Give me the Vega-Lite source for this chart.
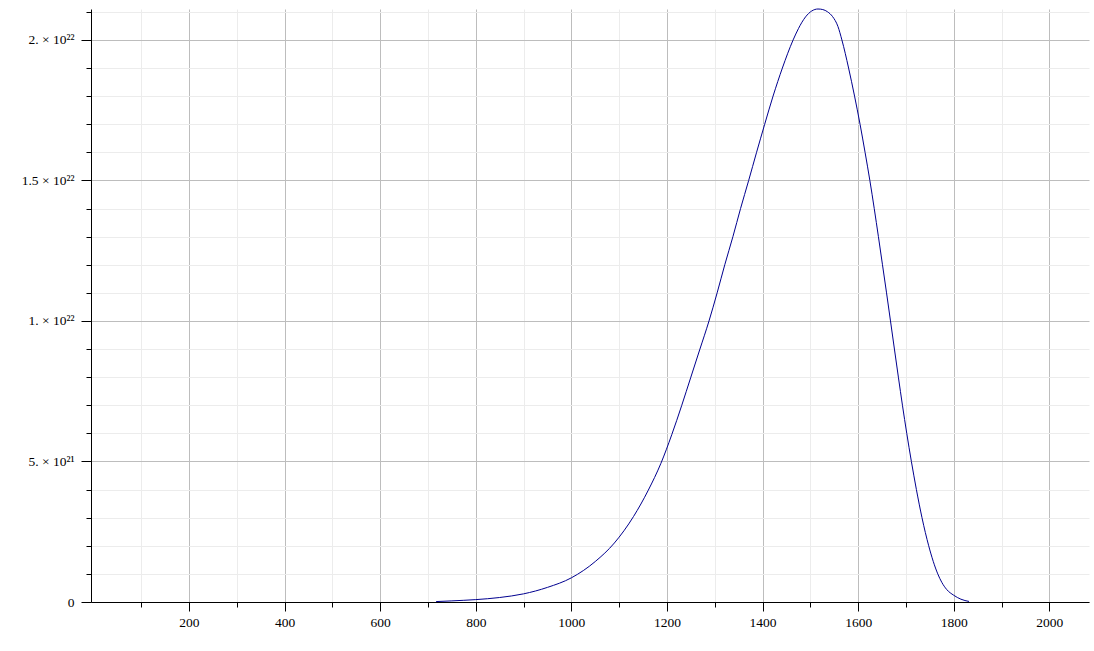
{
  "$schema": "https://vega.github.io/schema/vega-lite/v6.json",
  "autosize": {"type": "none"},
  "width": 998,
  "height": 593,
  "padding": {"left": 91, "top": 9, "right": 5, "bottom": 49},
  "background": "white",
  "config": {
    "view": {"stroke": null},
    "axis": {"labelFont": "Liberation Serif", "labelFontSize": 13.5, "labelColor": "#000", "domainColor": "#000", "tickColor": "#000", "domainWidth": 1, "tickWidth": 1, "gridWidth": 1}
  },
  "data": {
    "values": [
      {"x": 717, "y": 0.015e21},
      {"x": 750, "y": 0.04e21},
      {"x": 800, "y": 0.085e21},
      {"x": 850, "y": 0.16e21},
      {"x": 900, "y": 0.29e21},
      {"x": 950, "y": 0.52e21},
      {"x": 1000, "y": 0.86e21},
      {"x": 1050, "y": 1.44e21},
      {"x": 1090, "y": 2.1e21},
      {"x": 1130, "y": 3.04e21},
      {"x": 1161, "y": 3.98e21},
      {"x": 1187, "y": 4.92e21},
      {"x": 1210, "y": 5.95e21},
      {"x": 1231, "y": 7.0e21},
      {"x": 1250, "y": 8.0e21},
      {"x": 1269, "y": 9.0e21},
      {"x": 1288, "y": 10.0e21},
      {"x": 1305, "y": 11.0e21},
      {"x": 1321, "y": 12.0e21},
      {"x": 1338, "y": 13.0e21},
      {"x": 1354, "y": 14.0e21},
      {"x": 1371, "y": 15.0e21},
      {"x": 1387.5, "y": 16.0e21},
      {"x": 1404.5, "y": 17.0e21},
      {"x": 1422, "y": 18.0e21},
      {"x": 1441.5, "y": 19.0e21},
      {"x": 1464, "y": 20.0e21},
      {"x": 1475, "y": 20.4e21},
      {"x": 1490, "y": 20.82e21},
      {"x": 1503, "y": 21.03e21},
      {"x": 1516, "y": 21.1e21},
      {"x": 1526, "y": 21.08e21},
      {"x": 1536, "y": 21.0e21},
      {"x": 1546.5, "y": 20.83e21},
      {"x": 1557.7, "y": 20.48e21},
      {"x": 1566, "y": 20.0e21},
      {"x": 1580, "y": 19.0e21},
      {"x": 1592.5, "y": 18.0e21},
      {"x": 1604, "y": 17.0e21},
      {"x": 1614.5, "y": 16.0e21},
      {"x": 1624.5, "y": 15.0e21},
      {"x": 1633.7, "y": 14.0e21},
      {"x": 1642.4, "y": 13.0e21},
      {"x": 1650.9, "y": 12.0e21},
      {"x": 1659.4, "y": 11.0e21},
      {"x": 1667.7, "y": 10.0e21},
      {"x": 1675.9, "y": 9.0e21},
      {"x": 1684.2, "y": 8.0e21},
      {"x": 1692.7, "y": 7.0e21},
      {"x": 1701.7, "y": 6.0e21},
      {"x": 1711.4, "y": 5.0e21},
      {"x": 1721.9, "y": 4.0e21},
      {"x": 1733.6, "y": 3.0e21},
      {"x": 1747.6, "y": 2.0e21},
      {"x": 1766.6, "y": 1.0e21},
      {"x": 1775, "y": 0.7e21},
      {"x": 1785, "y": 0.45e21},
      {"x": 1800, "y": 0.24e21},
      {"x": 1815, "y": 0.1e21},
      {"x": 1832, "y": 0.02e21}
    ]
  },
  "mark": {"type": "line", "color": "#00008f", "strokeWidth": 1, "interpolate": "monotone"},
  "encoding": {
    "x": {
      "field": "x", "type": "quantitative",
      "scale": {"domain": [-5, 2083], "nice": false, "zero": false},
      "axis": {
        "title": null,
        "labelFont": "Liberation Serif",
        "values": [100,200,300,400,500,600,700,800,900,1000,1100,1200,1300,1400,1500,1600,1700,1800,1900,2000],
        "format": "d",
        "labelExpr": "datum.value % 200 === 0 ? datum.label : ''",
        "tickSize": {"condition": {"test": "datum.value % 200 === 0", "value": 9}, "value": 5},
        "gridColor": {"condition": {"test": "datum.value % 200 === 0", "value": "#bdbdbd"}, "value": "#ececec"},
        "labelPadding": 4,
        "labelFlush": false,
        "labelOverlap": false
      }
    },
    "y": {
      "field": "y", "type": "quantitative",
      "scale": {"domain": [0, 2.11e22], "nice": false, "zero": true},
      "axis": {
        "title": null,
        "labelFont": "Liberation Serif",
        "values": [0,1e21,2e21,3e21,4e21,5e21,6e21,7e21,8e21,9e21,10e21,11e21,12e21,13e21,14e21,15e21,16e21,17e21,18e21,19e21,20e21,21e21],
        "labelExpr": "datum.value === 0 ? '0' : datum.value === 5e21 ? '5. × 10²¹' : datum.value === 1e22 ? '1. × 10²²' : datum.value === 1.5e22 ? '1.5 × 10²²' : datum.value === 2e22 ? '2. × 10²²' : ''",
        "tickSize": {"condition": {"test": "datum.value % 5e21 === 0", "value": 10}, "value": 5},
        "gridColor": {"condition": {"test": "datum.value % 5e21 === 0", "value": "#bdbdbd"}, "value": "#ececec"},
        "labelPadding": 7,
        "labelFlush": false,
        "labelOverlap": false
      }
    }
  }
}
